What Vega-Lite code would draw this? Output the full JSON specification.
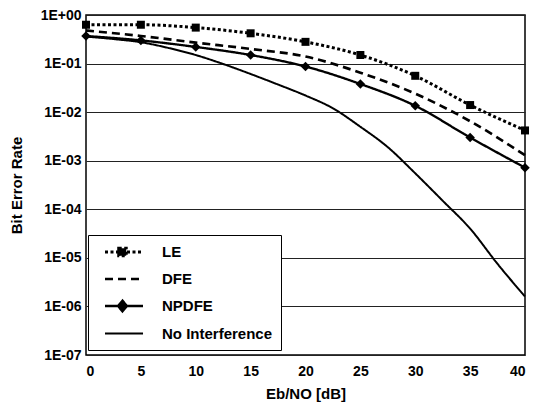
{
  "$schema": "https://vega.github.io/schema/vega-lite/v6.json",
  "width": 439,
  "height": 340,
  "autosize": "none",
  "padding": {"left": 86, "top": 15, "right": 12, "bottom": 47},
  "background": "white",
  "config": {
    "font": "Liberation Sans",
    "view": {"stroke": "black", "strokeWidth": 1.5},
    "axis": {
      "labelFont": "Liberation Sans",
      "titleFont": "Liberation Sans",
      "labelFontWeight": "bold",
      "titleFontWeight": "bold",
      "labelColor": "black",
      "titleColor": "black",
      "domain": false,
      "ticks": false,
      "labelFontSize": 14,
      "titleFontSize": 15
    },
    "legend": {
      "title": null,
      "orient": "none",
      "legendX": 2,
      "legendY": 220,
      "direction": "vertical",
      "padding": 8,
      "rowPadding": 8,
      "strokeColor": "black",
      "fillColor": "white",
      "cornerRadius": 0,
      "symbolSize": 225,
      "symbolOpacity": 1,
      "symbolFillColor": "black",
      "labelFont": "Liberation Sans",
      "labelFontSize": 15,
      "labelFontWeight": "bold",
      "labelColor": "black",
      "labelOffset": 48
    }
  },
  "data": {
    "values": [
      {"ebno": 0, "ber": 0.63, "series": "LE"},
      {"ebno": 5, "ber": 0.63, "series": "LE"},
      {"ebno": 10, "ber": 0.55, "series": "LE"},
      {"ebno": 15, "ber": 0.42, "series": "LE"},
      {"ebno": 20, "ber": 0.28, "series": "LE"},
      {"ebno": 25, "ber": 0.15, "series": "LE"},
      {"ebno": 30, "ber": 0.056, "series": "LE"},
      {"ebno": 35, "ber": 0.014, "series": "LE"},
      {"ebno": 40, "ber": 0.0042, "series": "LE"},
      {"ebno": 0, "ber": 0.48, "series": "DFE"},
      {"ebno": 5, "ber": 0.37, "series": "DFE"},
      {"ebno": 10, "ber": 0.27, "series": "DFE"},
      {"ebno": 15, "ber": 0.2, "series": "DFE"},
      {"ebno": 20, "ber": 0.14, "series": "DFE"},
      {"ebno": 25, "ber": 0.065, "series": "DFE"},
      {"ebno": 30, "ber": 0.024, "series": "DFE"},
      {"ebno": 35, "ber": 0.0065, "series": "DFE"},
      {"ebno": 40, "ber": 0.0013, "series": "DFE"},
      {"ebno": 0, "ber": 0.37, "series": "NPDFE"},
      {"ebno": 5, "ber": 0.3, "series": "NPDFE"},
      {"ebno": 10, "ber": 0.22, "series": "NPDFE"},
      {"ebno": 15, "ber": 0.15, "series": "NPDFE"},
      {"ebno": 20, "ber": 0.087, "series": "NPDFE"},
      {"ebno": 25, "ber": 0.038, "series": "NPDFE"},
      {"ebno": 30, "ber": 0.0135, "series": "NPDFE"},
      {"ebno": 35, "ber": 0.003, "series": "NPDFE"},
      {"ebno": 40, "ber": 0.00072, "series": "NPDFE"},
      {"ebno": 0, "ber": 0.36, "series": "No Interference"},
      {"ebno": 2.5, "ber": 0.32, "series": "No Interference"},
      {"ebno": 5, "ber": 0.275, "series": "No Interference"},
      {"ebno": 7.5, "ber": 0.21, "series": "No Interference"},
      {"ebno": 10, "ber": 0.15, "series": "No Interference"},
      {"ebno": 12.5, "ber": 0.098, "series": "No Interference"},
      {"ebno": 15, "ber": 0.061, "series": "No Interference"},
      {"ebno": 17.5, "ber": 0.037, "series": "No Interference"},
      {"ebno": 20, "ber": 0.022, "series": "No Interference"},
      {"ebno": 22.5, "ber": 0.012, "series": "No Interference"},
      {"ebno": 25, "ber": 0.005, "series": "No Interference"},
      {"ebno": 27.5, "ber": 0.0019, "series": "No Interference"},
      {"ebno": 30, "ber": 0.00055, "series": "No Interference"},
      {"ebno": 32.5, "ber": 0.00015, "series": "No Interference"},
      {"ebno": 35, "ber": 0.00004, "series": "No Interference"},
      {"ebno": 37.5, "ber": 0.0000075, "series": "No Interference"},
      {"ebno": 40, "ber": 0.0000016, "series": "No Interference"}
    ]
  },
  "encoding": {
    "x": {
      "field": "ebno",
      "type": "quantitative",
      "scale": {"domain": [0, 40], "nice": false},
      "axis": {"values": [0, 5, 10, 15, 20, 25, 30, 35, 40], "title": "Eb/NO [dB]", "grid": false, "labelPadding": 9, "titlePadding": 8}
    },
    "y": {
      "field": "ber",
      "type": "quantitative",
      "scale": {"type": "log", "domain": [0.0000001, 1], "nice": false},
      "axis": {
        "values": [0.0000001, 0.000001, 0.00001, 0.0001, 0.001, 0.01, 0.1, 1],
        "labelExpr": "datum.value >= 0.999 ? '1E+00' : '1E-0' + round(-log(datum.value) / LN10)",
        "title": "Bit Error Rate",
        "grid": true,
        "gridColor": "#222222",
        "gridWidth": 1,
        "gridOpacity": 1,
        "labelPadding": 5,
        "titlePadding": 16
      }
    }
  },
  "layer": [
    {
      "mark": {"type": "line", "interpolate": "monotone", "color": "black"},
      "encoding": {
        "strokeDash": {
          "field": "series",
          "type": "nominal",
          "scale": {"domain": ["LE", "DFE", "NPDFE", "No Interference"], "range": [[3, 2.5], [8, 5], [1, 0], [1, 0]]}
        },
        "strokeWidth": {
          "field": "series",
          "type": "nominal",
          "scale": {"domain": ["LE", "DFE", "NPDFE", "No Interference"], "range": [3, 2, 1.6, 1.8]}
        }
      }
    },
    {
      "transform": [{"filter": {"field": "series", "equal": "LE"}}],
      "mark": {"type": "point", "shape": "square", "filled": true, "color": "black", "opacity": 1, "size": 64}
    },
    {
      "transform": [{"filter": {"field": "series", "equal": "NPDFE"}}],
      "mark": {"type": "point", "shape": "diamond", "filled": true, "color": "black", "opacity": 1, "size": 90}
    },
    {
      "transform": [{"filter": {"field": "ebno", "equal": 0}}],
      "mark": {"type": "point", "filled": true, "color": "black", "size": 0},
      "encoding": {
        "shape": {
          "field": "series",
          "type": "nominal",
          "scale": {
            "domain": ["LE", "DFE", "NPDFE", "No Interference"],
            "range": [
              "M0,0H5.07M1.83,-0.5H2.83V0.5H1.83Z",
              "M0,0H5.07",
              "M0,0H5.07M1.73,0L2.33,-0.72L2.93,0L2.33,0.72Z",
              "M0,0H5.07"
            ]
          }
        }
      }
    }
  ]
}
